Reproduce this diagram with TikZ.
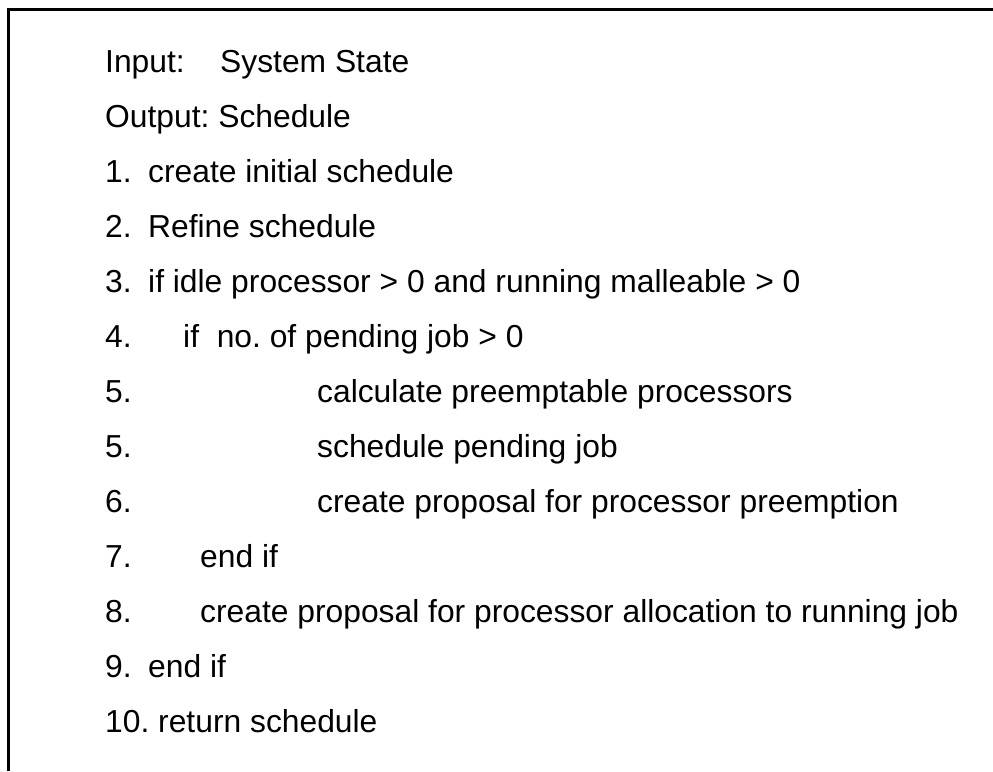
\documentclass[tikz,border=0pt]{standalone}
\usepackage{fontspec}
\setmainfont{Liberation Sans}
\frenchspacing
\begin{document}
\begin{tikzpicture}[x=1pt,y=-1pt,
  txt/.style={anchor=base west, inner sep=0pt, font=\fontsize{31.8}{38}\selectfont},
  frame/.style={line width=2.6pt, line join=miter}]
\useasboundingbox (0,0) rectangle (993,771);
\coordinate (bl) at (8.7,771);
\coordinate (tl) at (8.7,9.2);
\coordinate (tr) at (993,9.2);
\draw[frame] (bl) -- (tl) -- (tr);
\node[txt] (in)  at (105,72)  {Input:};
\node[txt] (inv) at (220,72)  {System State};
\node[txt] (out) at (105,127) {Output: Schedule};
\node[txt] (n1)  at (105,182) {1.};
\node[txt] (t1)  at (148,182) {create initial schedule};
\node[txt] (n2)  at (105,237) {2.};
\node[txt] (t2)  at (148,237) {Refine schedule};
\node[txt] (n3)  at (105,292) {3.};
\node[txt] (t3)  at (148,292) {if idle processor > 0 and running malleable > 0};
\node[txt] (n4)  at (105,347) {4.};
\node[txt] (t4)  at (183,347) {if\ \ no. of pending job > 0};
\node[txt] (n5)  at (105,402) {5.};
\node[txt] (t5)  at (317,402) {calculate preemptable processors};
\node[txt] (n5b) at (105,457) {5.};
\node[txt] (t5b) at (317,457) {schedule pending job};
\node[txt] (n6)  at (105,512) {6.};
\node[txt] (t6)  at (317,512) {create proposal for processor preemption};
\node[txt] (n7)  at (105,567) {7.};
\node[txt] (t7)  at (200,567) {end if};
\node[txt] (n8)  at (105,622) {8.};
\node[txt] (t8)  at (200,622) {create proposal for processor allocation to running job};
\node[txt] (n9)  at (105,677) {9.};
\node[txt] (t9)  at (148,677) {end if};
\node[txt] (n10) at (105,732) {10. return schedule};
\end{tikzpicture}
\end{document}
